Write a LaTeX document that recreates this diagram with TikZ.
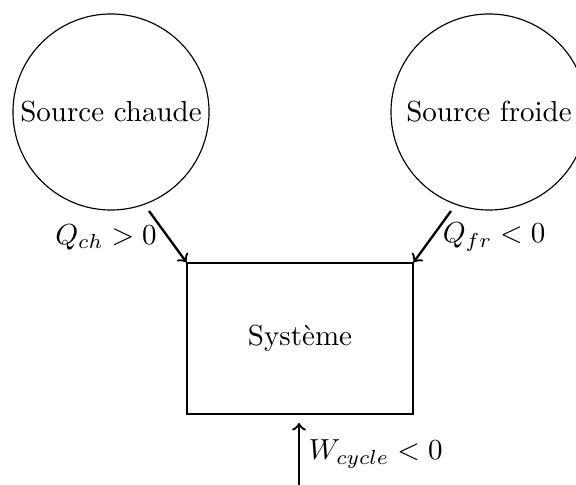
\documentclass[tikz,border=0pt]{standalone}
\begin{document}
\begin{tikzpicture}[x=0.3448pt,y=-0.3448pt,
  source/.style={circle,draw,line width=0.4pt,minimum size=67.6pt,inner sep=0pt},
  sysbox/.style={rectangle,draw,line width=0.4pt,minimum width=77.9pt,minimum height=52.1pt,inner sep=0pt},
  flow/.style={->,line width=0.8pt},
  lbl/.style={inner sep=0pt}]
\useasboundingbox (0,0) rectangle (576,485);
\node[source] (ch) at (111,112) {Source chaude};
\node[source] (fr) at (489,112) {Source froide};
\node[sysbox] (sys) at (300,338.5) {Système};
\coordinate (chout) at (149,211);
\coordinate (frout) at (451,211);
\draw[flow] (chout) -- (sys.north west);
\draw[flow] (frout) -- (sys.north east);
\node[lbl] (qch) at (106,237) {$Q_{ch} > 0$};
\node[lbl] (qfr) at (494,237) {$Q_{fr} < 0$};
\coordinate (wstart) at (299,485);
\coordinate (wend) at (299,423);
\draw[flow] (wstart) -- (wend) node[midway,right,inner sep=3pt] (wl) {$W_{cycle} < 0$};
\end{tikzpicture}
\end{document}
